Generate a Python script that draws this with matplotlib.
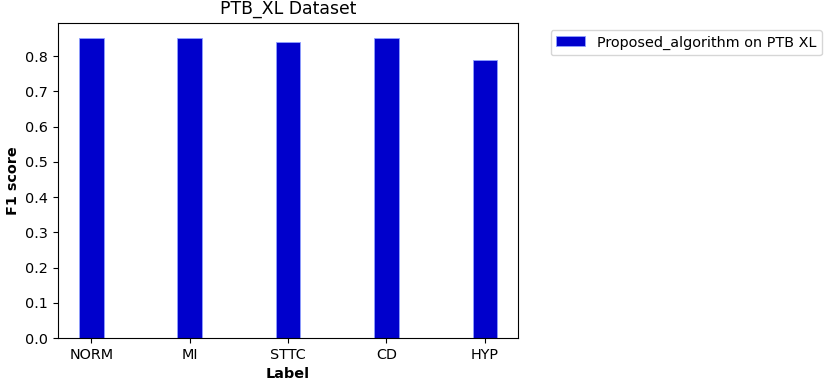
import matplotlib
matplotlib.use('Agg')
import matplotlib.pyplot as plt
import numpy as np

# Values
labels = ['NORM', 'MI', 'STTC', 'CD', 'HYP']
f1_scores = [0.853, 0.853, 0.840, 0.853, 0.789]

plt.rcParams['font.size'] = 10.35

fig = plt.figure(figsize=(8.29, 3.89), dpi=100)
ax = fig.add_axes([0.07, 0.131, 0.555, 0.811])

x = np.arange(len(labels))
ax.bar(x, f1_scores, width=0.25, color='#0000cc', edgecolor='#8fa0ff',
       linewidth=0.6, label='Proposed_algorithm on PTB XL')

ax.set_xticks(x)
ax.set_xticklabels(labels)
ax.set_yticks(np.arange(0, 0.81, 0.1))
ax.set_xlabel('Label', fontweight='bold')
ax.set_ylabel('F1 score', fontweight='bold')
ax.set_title('PTB_XL Dataset')
ax.legend(bbox_to_anchor=(1.055, 1), loc='upper left')

fig.savefig('out.png', dpi=100)
